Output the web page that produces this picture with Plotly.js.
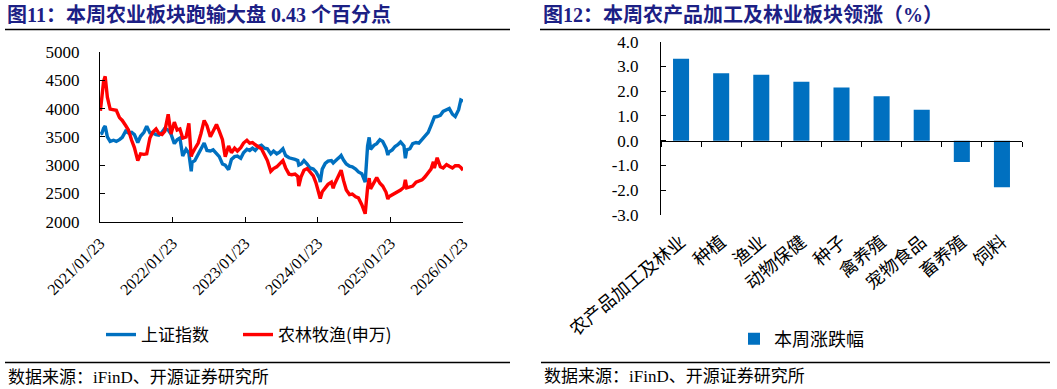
<!DOCTYPE html>
<html>
<head>
<meta charset="utf-8">
<script src="https://cdn.plot.ly/plotly-3.0.1.min.js"></script>
<style>html,body{margin:0;padding:0;background:#fff;}#chart{width:1057px;height:389px;}</style>
</head>
<body>
<div id="chart"></div>
<script>
// ---- Left chart data: 上证指数 vs 农林牧渔(申万) ----
const dates = [
"2021-01-25","2021-02-01","2021-02-10","2021-02-18","2021-03-01","2021-03-15","2021-04-01","2021-04-15","2021-05-01","2021-05-15",
"2021-06-01","2021-06-15","2021-07-01","2021-07-15","2021-08-01","2021-08-15","2021-09-01","2021-09-15","2021-10-01","2021-10-15",
"2021-11-01","2021-11-15","2021-12-01","2021-12-15","2022-01-01","2022-01-15","2022-02-01","2022-02-15","2022-03-01","2022-03-15",
"2022-04-01","2022-04-15","2022-04-27","2022-05-01","2022-05-15","2022-06-01","2022-06-15","2022-07-01","2022-07-15","2022-08-01",
"2022-08-15","2022-09-01","2022-09-15","2022-10-01","2022-10-15","2022-11-01","2022-11-15","2022-12-01","2022-12-15","2023-01-01",
"2023-01-15","2023-02-01","2023-02-15","2023-03-01","2023-03-15","2023-04-01","2023-04-15","2023-05-01","2023-05-15","2023-06-01",
"2023-06-15","2023-07-01","2023-07-15","2023-08-01","2023-08-15","2023-09-01","2023-09-15","2023-10-01","2023-10-15","2023-10-20",
"2023-11-01","2023-11-15","2023-12-01","2023-12-15","2024-01-01","2024-01-15","2024-02-01","2024-02-05","2024-02-15","2024-03-01",
"2024-03-15","2024-04-01","2024-04-10","2024-04-15","2024-05-01","2024-05-15","2024-05-20","2024-06-01","2024-06-15","2024-07-01",
"2024-07-15","2024-08-01","2024-08-15","2024-09-01","2024-09-15","2024-09-18","2024-09-30","2024-10-08","2024-10-15","2024-11-01",
"2024-11-15","2024-12-01","2024-12-15","2025-01-01","2025-01-10","2025-01-15","2025-02-01","2025-02-15","2025-03-01","2025-03-15",
"2025-04-01","2025-04-08","2025-04-15","2025-05-01","2025-05-15","2025-06-01","2025-06-15","2025-07-01","2025-07-15","2025-08-01",
"2025-08-15","2025-08-27","2025-09-01","2025-09-15","2025-10-01","2025-10-15","2025-11-01","2025-11-15","2025-12-01","2025-12-15",
"2026-01-01","2026-01-12","2026-01-23"
];
const sseIndex = [
3550,3560,3650,3690,3500,3420,3440,3420,3450,3490,
3600,3570,3580,3540,3400,3510,3580,3690,3570,3570,
3540,3530,3580,3650,3620,3550,3380,3450,3480,3160,
3280,3210,2890,3050,3080,3190,3300,3390,3260,3250,
3270,3200,3150,3020,3000,2920,3100,3150,3160,3120,
3220,3280,3260,3300,3260,3330,3350,3300,3290,3200,
3250,3200,3230,3290,3170,3130,3120,3100,3080,3000,
3020,3080,3020,2950,2930,2880,2770,2700,2930,3030,
3070,3080,3040,3060,3110,3150,3170,3090,3020,2980,
2970,2930,2880,2850,2720,2700,3340,3490,3280,3350,
3380,3450,3420,3300,3180,3230,3270,3330,3360,3410,
3340,3120,3270,3290,3380,3400,3390,3460,3520,3580,
3700,3800,3850,3860,3880,3950,3980,4000,3900,3860,
3980,4150,4130
];
const agriIndex = [
3960,4200,4480,4570,4200,3990,3980,3970,3840,3790,
3700,3620,3440,3310,3080,3200,3190,3200,3480,3580,
3640,3560,3540,3600,3900,3550,3760,3620,3640,3480,
3500,3740,3150,3200,3290,3390,3560,3790,3700,3500,
3600,3720,3600,3450,3150,3340,3220,3300,3250,3310,
3390,3440,3390,3400,3360,3320,3290,3180,3080,2890,
2940,2970,3020,3080,2950,2840,2830,2840,2800,2630,
2800,2910,2940,2890,2810,2680,2500,2410,2530,2600,
2660,2700,2590,2650,2780,2880,2910,2730,2560,2480,
2490,2440,2420,2300,2180,2140,2600,2770,2580,2700,
2780,2680,2630,2520,2400,2440,2470,2500,2520,2560,
2610,2740,2600,2610,2630,2700,2720,2740,2790,2870,
2930,3060,2950,3130,2970,2950,3010,2980,2950,2990,
2990,2960,2910
];
const lineNames = ["上证指数", "农林牧渔(申万)"];

// ---- Right chart data: 本周涨跌幅 (%) ----
const sectors = ["农产品加工及林业","种植","渔业","动物保健","种子","禽养殖","宠物食品","畜养殖","饲料"];
const weeklyChange = [3.31, 2.73, 2.66, 2.38, 2.15, 1.80, 1.25, -0.86, -1.88];
const barName = "本周涨跌幅";
const rightTickVals = [-3, -2, -1, 0, 1, 2, 3, 4];

// ---- Text ----
const titleLeft = "图11：本周农业板块跑输大盘 0.43 个百分点";
const titleRight = "图12：本周农产品加工及林业板块领涨（%）";
const sourceText = "数据来源：iFinD、开源证券研究所";

const W = 1057, H = 389;
const px = v => v / W;
const py = v => (H - v) / H;
const SERIF = '"Liberation Serif", "Times New Roman", "Noto Sans CJK SC", serif';
const CJK = '"Noto Sans CJK SC", "Liberation Serif", sans-serif';
const BLUE = "#0070C0", RED = "#FF0000", NAVY = "#1c2085";

const leftY = [py(221.7), py(52)];
const rightY = [py(215), py(41.7)];
const rightZeroPos = rightY[0] + (rightY[1] - rightY[0]) * 3 / 7;

const traces = [
  {type: "scatter", mode: "lines", name: lineNames[0], x: dates, y: sseIndex,
   xaxis: "x", yaxis: "y", line: {color: BLUE, width: 3.4}, legend: "legend"},
  {type: "scatter", mode: "lines", name: lineNames[1], x: dates, y: agriIndex,
   xaxis: "x", yaxis: "y", line: {color: RED, width: 3.4}, legend: "legend3"},
  {type: "bar", name: barName, x: sectors, y: weeklyChange, xaxis: "x2", yaxis: "y2",
   marker: {color: BLUE}, legend: "legend2"},
  {type: "scatter", mode: "markers", x: sectors, y: weeklyChange, xaxis: "x3", yaxis: "y2",
   marker: {opacity: 0}, showlegend: false, hoverinfo: "skip"}
];

const legendFont = {family: CJK, size: 17, color: "#000"};

const layout = {
  width: W, height: H,
  margin: {l: 0, r: 0, t: 0, b: 0},
  paper_bgcolor: "#fff", plot_bgcolor: "rgba(0,0,0,0)",
  showlegend: true,
  bargap: 0.6,
  xaxis: {
    domain: [px(100), px(463)], anchor: "y", type: "date",
    range: ["2021-01-23", "2026-01-23"], tick0: "2021-01-23", dtick: "M12",
    tickformat: "%Y/%m/%d", tickangle: -45,
    ticks: "inside", ticklen: 5, tickcolor: "#000",
    showline: true, linecolor: "#000", linewidth: 1,
    showgrid: false, zeroline: false,
    tickfont: {family: SERIF, size: 16, color: "#000"}, ticklabelstandoff: 5
  },
  yaxis: {
    domain: leftY, anchor: "x", range: [2000, 5000], dtick: 500,
    ticks: "inside", ticklen: 5, tickcolor: "#000",
    showline: true, linecolor: "#000", linewidth: 1,
    showgrid: false, zeroline: false,
    tickfont: {family: SERIF, size: 17, color: "#000"}, ticklabelstandoff: 16
  },
  xaxis2: {
    domain: [px(661), px(1022)], anchor: "y2", type: "category",
    range: [-0.5, 8.5], showline: false, ticks: "", showgrid: false, zeroline: false,
    tickangle: -40, tickfont: {family: CJK, size: 18, color: "#000"}, ticklabelstandoff: 12
  },
  xaxis3: {
    overlaying: "x2", anchor: "free", position: rightZeroPos, type: "category",
    range: [-0.5, 8.5], showline: true, linecolor: "#000", linewidth: 1,
    ticks: "outside", tickson: "boundaries", ticklen: 5, tickcolor: "#000",
    showticklabels: false, showgrid: false, zeroline: false
  },
  yaxis2: {
    domain: rightY, anchor: "x2", range: [-3, 4],
    tickvals: rightTickVals, ticktext: rightTickVals.map(v => v.toFixed(1)),
    ticks: "inside", ticklen: 5, tickcolor: "#000",
    showline: true, linecolor: "#000", linewidth: 1,
    showgrid: false, zeroline: false,
    tickfont: {family: SERIF, size: 17, color: "#000"}, ticklabelstandoff: 18
  },
  legend: {
    orientation: "h", x: px(101), y: py(335), xanchor: "left", yanchor: "middle",
    font: legendFont, bgcolor: "rgba(0,0,0,0)"
  },
  legend3: {
    orientation: "h", x: px(238), y: py(335), xanchor: "left", yanchor: "middle",
    font: legendFont, bgcolor: "rgba(0,0,0,0)"
  },
  legend2: {
    orientation: "h", x: px(734), y: py(339), xanchor: "left", yanchor: "middle",
    font: {family: CJK, size: 18, color: "#000"}, bgcolor: "rgba(0,0,0,0)"
  },
  shapes: [
    {type: "line", xref: "paper", yref: "paper", x0: px(5), x1: px(510), y0: py(29.5), y1: py(29.5), line: {color: "#000", width: 1.3}},
    {type: "line", xref: "paper", yref: "paper", x0: px(540), x1: px(1050), y0: py(29.5), y1: py(29.5), line: {color: "#000", width: 1.3}},
    {type: "line", xref: "paper", yref: "paper", x0: px(5), x1: px(510), y0: py(362.5), y1: py(362.5), line: {color: "#000", width: 1.3}},
    {type: "line", xref: "paper", yref: "paper", x0: px(541), x1: px(1050), y0: py(362.5), y1: py(362.5), line: {color: "#000", width: 1.3}}
  ],
  annotations: [
    {xref: "paper", yref: "paper", x: px(5), y: py(15), xanchor: "left", yanchor: "middle", showarrow: false,
     text: "<b>" + titleLeft + "</b>", font: {family: SERIF, size: 20, color: NAVY}},
    {xref: "paper", yref: "paper", x: px(541), y: py(15), xanchor: "left", yanchor: "middle", showarrow: false,
     text: "<b>" + titleRight + "</b>", font: {family: SERIF, size: 20, color: NAVY}},
    {xref: "paper", yref: "paper", x: px(6), y: py(377), xanchor: "left", yanchor: "middle", showarrow: false,
     text: sourceText, font: {family: SERIF, size: 17, color: "#000"}},
    {xref: "paper", yref: "paper", x: px(542), y: py(376), xanchor: "left", yanchor: "middle", showarrow: false,
     text: sourceText, font: {family: SERIF, size: 17, color: "#000"}}
  ]
};

Plotly.newPlot("chart", traces, layout, {displayModeBar: false, staticPlot: true});
</script>
</body>
</html>
